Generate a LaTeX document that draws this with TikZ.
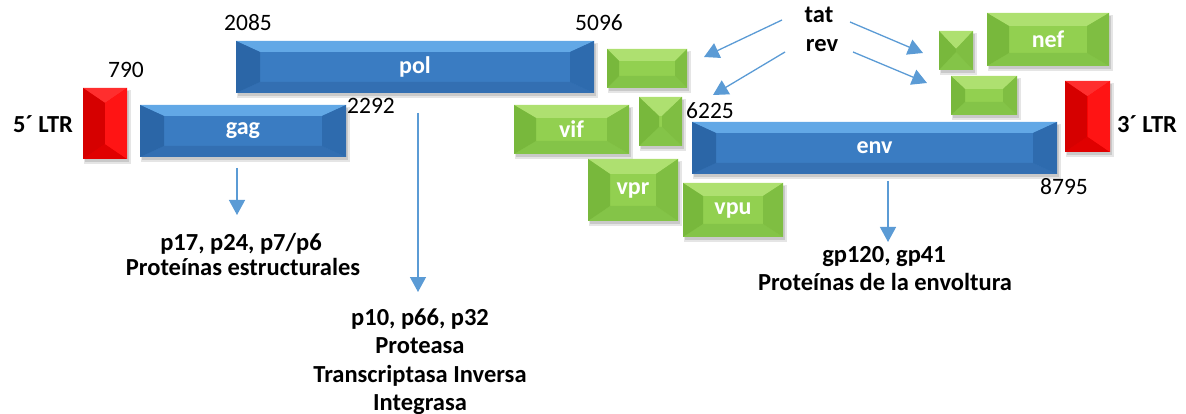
\documentclass[tikz,border=0pt]{standalone}
\usepackage{fontspec}
\setmainfont{Carlito}
\usetikzlibrary{arrows.meta}

\definecolor{arrowblue}{HTML}{5B9BD5}
% blue bevel faces
\definecolor{bluemid}{HTML}{3A7CC2}
\definecolor{bluetop}{HTML}{62A8E6}
\definecolor{blueleft}{HTML}{2B66A7}
\definecolor{blueright}{HTML}{2E6BAE}
\definecolor{bluebot}{HTML}{336FB2}
% green bevel faces
\definecolor{greenmid}{HTML}{92D050}
\definecolor{greentop}{HTML}{AEE070}
\definecolor{greenleft}{HTML}{78B83C}
\definecolor{greenright}{HTML}{7FBE42}
\definecolor{greenbot}{HTML}{84C448}
% red bevel faces
\definecolor{redmid}{HTML}{FF0505}
\definecolor{redtop}{HTML}{FF2E2E}
\definecolor{redleft}{HTML}{D60000}
\definecolor{redright}{HTML}{FF1414}
\definecolor{redbot}{HTML}{E00000}

\tikzset{
  x=1pt, y=-1pt,
  num/.style={font=\fontsize{23.5}{27}\selectfont, inner sep=0pt, anchor=base},
  txt/.style={font=\fontsize{24.5}{28}\selectfont\bfseries, inner sep=0pt, anchor=base},
  boxlabel/.style={font=\fontsize{24}{28}\selectfont\bfseries, text=white, inner sep=0pt},
  arr/.style={draw=arrowblue, line width=1.3pt, -{Triangle[width=16pt,length=15pt]}},
}

% bevelled box: name, x1, y1, x2, y2, bevel dx, bevel dy, palette, label
\newcommand\bevbox[9]{%
  \fill[black,opacity=0.10] (#2+1,#3+2) rectangle (#4+4,#5+5);
  \fill[black,opacity=0.12] (#2+2,#3+3) rectangle (#4+2,#5+3);
  \fill[#8mid] (#2,#3) rectangle (#4,#5);
  \fill[#8top] (#2,#3) -- (#4,#3) -- (#4-#6,#3+#7) -- (#2+#6,#3+#7) -- cycle;
  \fill[#8bot] (#2,#5) -- (#4,#5) -- (#4-#6,#5-#7) -- (#2+#6,#5-#7) -- cycle;
  \fill[#8left] (#2,#3) -- (#2+#6,#3+#7) -- (#2+#6,#5-#7) -- (#2,#5) -- cycle;
  \fill[#8right] (#4,#3) -- (#4-#6,#3+#7) -- (#4-#6,#5-#7) -- (#4,#5) -- cycle;
  \node[boxlabel, minimum width={(#4-#2)*1pt}, minimum height={(#5-#3)*1pt}]
    (#1) at ({(#2+#4)/2},{(#3+#5)/2}) {#9};
}

\begin{document}
\begin{tikzpicture}
\useasboundingbox (0,0) rectangle (1186,414);

% long terminal repeats
\bevbox{ltr5}{83}{88}{127}{159}{22}{15}{red}{}
\bevbox{ltr3}{1065}{81}{1110}{152}{22}{15}{red}{}

% structural genes
\bevbox{pol}{236}{41}{594}{93}{24}{11}{blue}{pol}
\bevbox{gag}{140}{105}{346}{157}{24}{11}{blue}{gag}
\bevbox{env}{692}{122}{1057}{174}{24}{11}{blue}{env}

% regulatory and accessory genes
\bevbox{tatA}{607}{49}{687}{88}{12}{12}{green}{}
\bevbox{revA}{639}{97}{682}{146}{20}{19}{green}{}
\bevbox{vif}{514}{105}{629}{154}{22}{13}{green}{vif}
\bevbox{vpr}{588}{159}{678}{221}{22}{15}{green}{vpr}
\bevbox{vpu}{683}{183}{783}{237}{20}{13}{green}{vpu}
\bevbox{tatB}{939}{31}{973}{70}{17}{18}{green}{}
\bevbox{nef}{987}{13}{1109}{66}{22}{13}{green}{nef}
\bevbox{revB}{951}{76}{1017}{115}{14}{13}{green}{}

% end labels
\node[txt] (l5) at (43,133) {5´ LTR};
\node[txt] (l3) at (1147,133) {3´ LTR};

% nucleotide positions
\node[num] (p790) at (126,78) {790};
\node[num] (p2085) at (248,31) {2085};
\node[num] (p5096) at (599,31) {5096};
\node[num] (p2292) at (371,114) {2292};
\node[num] (p6225) at (710,119) {6225};
\node[num] (p8795) at (1064,195) {8795};

% tat / rev exons
\node[txt] (tat) at (819,23) {tat};
\node[txt] (rev) at (822,52) {rev};

\coordinate (t1s) at (782,20);  \coordinate (t1e) at (704,57);
\coordinate (r1s) at (785,52);  \coordinate (r1e) at (713,95);
\coordinate (t2s) at (850,22);  \coordinate (t2e) at (923,53);
\coordinate (r2s) at (853,52);  \coordinate (r2e) at (927,83);
\draw[arr] (t1s) -- (t1e);
\draw[arr] (r1s) -- (r1e);
\draw[arr] (t2s) -- (t2e);
\draw[arr] (r2s) -- (r2e);

% gene products
\node[txt] (gagP) at (241,251) {p17, p24, p7/p6};
\node[txt] (gagD) at (243,276) {Proteínas estructurales};

\node[txt] (polP) at (420,325) {p10, p66, p32};
\node[txt] (polD1) at (420,353) {Proteasa};
\node[txt] (polD2) at (420,382) {Transcriptasa Inversa};
\node[txt] (polD3) at (420,410) {Integrasa};

\node[txt] (envP) at (884,262) {gp120, gp41};
\node[txt] (envD) at (885,290) {Proteínas de la envoltura};

\coordinate (ga) at (237,168); \coordinate (gb) at (237,215);
\coordinate (pa) at (418,113); \coordinate (pb) at (418,292);
\coordinate (ea) at (888,181); \coordinate (eb) at (888,242);
\draw[arr] (ga) -- (gb);
\draw[arr] (pa) -- (pb);
\draw[arr] (ea) -- (eb);
\end{tikzpicture}
\end{document}
